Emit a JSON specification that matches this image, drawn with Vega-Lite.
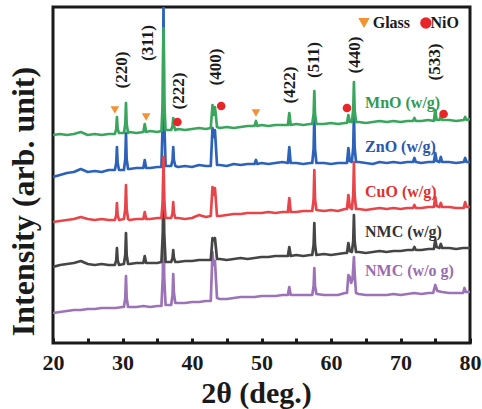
{
"$schema": "https://vega.github.io/schema/vega-lite/v6.json",
"width": 417, "height": 336,
"autosize": "none",
"padding": {"left": 53, "top": 7, "right": 12, "bottom": 66},
"background": "white",
"config": {"view": {"stroke": "#1a1a1a", "strokeWidth": 3}, "font": "Liberation Serif"},
"datasets": {
"xrd": [
{"s":"g","x":20,"y":208},{"s":"g","x":21,"y":209},{"s":"g","x":22,"y":208},{"s":"g","x":23,"y":209},{"s":"g","x":24,"y":211},{"s":"g","x":25,"y":208},{"s":"g","x":26,"y":209},{"s":"g","x":27,"y":208},{"s":"g","x":28,"y":209},
{"s":"g","x":28.9,"y":209},{"s":"g","x":29.1,"y":214},{"s":"g","x":29.2,"y":226},{"s":"g","x":29.3,"y":214},{"s":"g","x":29.5,"y":210},
{"s":"g","x":30.2,"y":210},{"s":"g","x":30.4,"y":219},{"s":"g","x":30.5,"y":240},{"s":"g","x":30.6,"y":219},{"s":"g","x":30.8,"y":210},
{"s":"g","x":31,"y":211},{"s":"g","x":32,"y":210},
{"s":"g","x":33.0,"y":211},{"s":"g","x":33.2,"y":219},{"s":"g","x":33.4,"y":211},
{"s":"g","x":34,"y":212},{"s":"g","x":35,"y":211},
{"s":"g","x":35.6,"y":212},{"s":"g","x":35.8,"y":243},{"s":"g","x":35.9,"y":315},{"s":"g","x":36.0,"y":243},{"s":"g","x":36.2,"y":213},
{"s":"g","x":37.0,"y":213},{"s":"g","x":37.2,"y":217},{"s":"g","x":37.3,"y":225},{"s":"g","x":37.4,"y":217},{"s":"g","x":37.6,"y":213},
{"s":"g","x":38,"y":214},{"s":"g","x":39,"y":213},{"s":"g","x":40,"y":214},{"s":"g","x":41,"y":215},{"s":"g","x":42,"y":214},
{"s":"g","x":42.7,"y":215},{"s":"g","x":42.95,"y":238},{"s":"g","x":43.1,"y":228},{"s":"g","x":43.3,"y":236},{"s":"g","x":43.6,"y":216},
{"s":"g","x":44,"y":215},{"s":"g","x":45,"y":216},{"s":"g","x":46,"y":215},{"s":"g","x":47,"y":216},{"s":"g","x":48,"y":217},
{"s":"g","x":49.0,"y":217},{"s":"g","x":49.2,"y":222},{"s":"g","x":49.4,"y":217},
{"s":"g","x":50,"y":218},{"s":"g","x":51,"y":217},{"s":"g","x":52,"y":218},{"s":"g","x":53,"y":218},
{"s":"g","x":53.8,"y":218},{"s":"g","x":54.0,"y":230},{"s":"g","x":54.2,"y":218},
{"s":"g","x":55,"y":219},{"s":"g","x":56,"y":218},{"s":"g","x":57,"y":219},
{"s":"g","x":57.3,"y":219},{"s":"g","x":57.5,"y":229},{"s":"g","x":57.6,"y":252},{"s":"g","x":57.7,"y":229},{"s":"g","x":57.9,"y":219},
{"s":"g","x":59,"y":219},{"s":"g","x":60,"y":220},{"s":"g","x":61,"y":219},{"s":"g","x":62,"y":220},
{"s":"g","x":62.3,"y":220},{"s":"g","x":62.5,"y":228},{"s":"g","x":62.7,"y":221},
{"s":"g","x":63.0,"y":221},{"s":"g","x":63.2,"y":233},{"s":"g","x":63.3,"y":261},{"s":"g","x":63.4,"y":233},{"s":"g","x":63.6,"y":221},
{"s":"g","x":64,"y":221},{"s":"g","x":65,"y":220},{"s":"g","x":66,"y":221},{"s":"g","x":67,"y":222},{"s":"g","x":68,"y":221},{"s":"g","x":69,"y":222},{"s":"g","x":70,"y":221},{"s":"g","x":71,"y":222},
{"s":"g","x":71.8,"y":222},{"s":"g","x":72.0,"y":225},{"s":"g","x":72.2,"y":222},
{"s":"g","x":73,"y":222},{"s":"g","x":74,"y":223},
{"s":"g","x":74.8,"y":222},{"s":"g","x":75.0,"y":233},{"s":"g","x":75.2,"y":223},
{"s":"g","x":75.6,"y":223},{"s":"g","x":75.8,"y":227},{"s":"g","x":76.0,"y":223},
{"s":"g","x":77,"y":223},{"s":"g","x":78,"y":222},
{"s":"g","x":79.1,"y":223},{"s":"g","x":79.3,"y":226},{"s":"g","x":79.5,"y":223},
{"s":"g","x":80,"y":224},

{"s":"b","x":20,"y":166},{"s":"b","x":21,"y":168},{"s":"b","x":22,"y":170},{"s":"b","x":23,"y":171},{"s":"b","x":24,"y":174},{"s":"b","x":25,"y":171},{"s":"b","x":26,"y":172},{"s":"b","x":27,"y":171},{"s":"b","x":28,"y":173},
{"s":"b","x":28.9,"y":173},{"s":"b","x":29.1,"y":180},{"s":"b","x":29.2,"y":196},{"s":"b","x":29.3,"y":180},{"s":"b","x":29.5,"y":173},
{"s":"b","x":30.2,"y":173},{"s":"b","x":30.4,"y":184},{"s":"b","x":30.5,"y":210},{"s":"b","x":30.6,"y":184},{"s":"b","x":30.8,"y":174},
{"s":"b","x":31,"y":174},{"s":"b","x":32,"y":175},
{"s":"b","x":33.0,"y":175},{"s":"b","x":33.2,"y":183},{"s":"b","x":33.4,"y":175},
{"s":"b","x":34,"y":175},{"s":"b","x":35,"y":176},
{"s":"b","x":35.6,"y":176},{"s":"b","x":35.8,"y":225},{"s":"b","x":35.9,"y":340},{"s":"b","x":36.0,"y":225},{"s":"b","x":36.2,"y":177},
{"s":"b","x":37.0,"y":177},{"s":"b","x":37.2,"y":183},{"s":"b","x":37.3,"y":196},{"s":"b","x":37.4,"y":183},{"s":"b","x":37.6,"y":177},
{"s":"b","x":38,"y":176},{"s":"b","x":39,"y":177},{"s":"b","x":40,"y":176},{"s":"b","x":41,"y":178},{"s":"b","x":42,"y":177},
{"s":"b","x":42.7,"y":177},{"s":"b","x":42.95,"y":215},{"s":"b","x":43.1,"y":206},{"s":"b","x":43.3,"y":213},{"s":"b","x":43.6,"y":178},
{"s":"b","x":44,"y":178},{"s":"b","x":45,"y":177},{"s":"b","x":46,"y":179},{"s":"b","x":47,"y":178},{"s":"b","x":48,"y":179},
{"s":"b","x":49.0,"y":179},{"s":"b","x":49.2,"y":183},{"s":"b","x":49.4,"y":179},
{"s":"b","x":50,"y":180},{"s":"b","x":51,"y":179},{"s":"b","x":52,"y":180},{"s":"b","x":53,"y":181},
{"s":"b","x":53.8,"y":180},{"s":"b","x":54.0,"y":196},{"s":"b","x":54.2,"y":180},
{"s":"b","x":55,"y":180},{"s":"b","x":56,"y":179},{"s":"b","x":57,"y":180},
{"s":"b","x":57.3,"y":180},{"s":"b","x":57.5,"y":194},{"s":"b","x":57.6,"y":228},{"s":"b","x":57.7,"y":194},{"s":"b","x":57.9,"y":180},
{"s":"b","x":59,"y":180},{"s":"b","x":60,"y":179},{"s":"b","x":61,"y":180},{"s":"b","x":62,"y":180},
{"s":"b","x":62.3,"y":180},{"s":"b","x":62.5,"y":195},{"s":"b","x":62.7,"y":182},
{"s":"b","x":63.0,"y":181},{"s":"b","x":63.2,"y":196},{"s":"b","x":63.3,"y":230},{"s":"b","x":63.4,"y":196},{"s":"b","x":63.6,"y":181},
{"s":"b","x":64,"y":181},{"s":"b","x":65,"y":180},{"s":"b","x":66,"y":179},{"s":"b","x":67,"y":181},{"s":"b","x":68,"y":180},{"s":"b","x":69,"y":181},{"s":"b","x":70,"y":180},{"s":"b","x":71,"y":181},
{"s":"b","x":71.8,"y":181},{"s":"b","x":72.0,"y":185},{"s":"b","x":72.2,"y":181},
{"s":"b","x":73,"y":180},{"s":"b","x":74,"y":181},
{"s":"b","x":74.8,"y":181},{"s":"b","x":75.0,"y":190},{"s":"b","x":75.2,"y":182},
{"s":"b","x":75.6,"y":181},{"s":"b","x":75.8,"y":186},{"s":"b","x":76.0,"y":181},
{"s":"b","x":77,"y":181},{"s":"b","x":78,"y":180},
{"s":"b","x":79.1,"y":181},{"s":"b","x":79.3,"y":185},{"s":"b","x":79.5,"y":181},
{"s":"b","x":80,"y":181},

{"s":"r","x":20,"y":121},{"s":"r","x":21,"y":122},{"s":"r","x":22,"y":123},{"s":"r","x":23,"y":124},{"s":"r","x":24,"y":126},{"s":"r","x":25,"y":124},{"s":"r","x":26,"y":123},{"s":"r","x":27,"y":124},{"s":"r","x":28,"y":123},
{"s":"r","x":28.9,"y":123},{"s":"r","x":29.1,"y":128},{"s":"r","x":29.2,"y":140},{"s":"r","x":29.3,"y":128},{"s":"r","x":29.5,"y":123},
{"s":"r","x":30.2,"y":124},{"s":"r","x":30.4,"y":134},{"s":"r","x":30.5,"y":158},{"s":"r","x":30.6,"y":134},{"s":"r","x":30.8,"y":124},
{"s":"r","x":31,"y":123},{"s":"r","x":32,"y":124},
{"s":"r","x":33.0,"y":124},{"s":"r","x":33.2,"y":131},{"s":"r","x":33.4,"y":124},
{"s":"r","x":34,"y":124},{"s":"r","x":35,"y":125},
{"s":"r","x":35.6,"y":125},{"s":"r","x":35.8,"y":143},{"s":"r","x":35.9,"y":186},{"s":"r","x":36.0,"y":143},{"s":"r","x":36.2,"y":125},
{"s":"r","x":37.0,"y":125},{"s":"r","x":37.2,"y":130},{"s":"r","x":37.3,"y":141},{"s":"r","x":37.4,"y":130},{"s":"r","x":37.6,"y":125},
{"s":"r","x":38,"y":125},{"s":"r","x":39,"y":124},{"s":"r","x":40,"y":125},{"s":"r","x":41,"y":128},{"s":"r","x":42,"y":126},
{"s":"r","x":42.7,"y":127},{"s":"r","x":42.95,"y":156},{"s":"r","x":43.1,"y":148},{"s":"r","x":43.3,"y":155},{"s":"r","x":43.6,"y":127},
{"s":"r","x":44,"y":127},{"s":"r","x":45,"y":128},{"s":"r","x":46,"y":129},{"s":"r","x":47,"y":129},{"s":"r","x":48,"y":130},{"s":"r","x":49,"y":130},
{"s":"r","x":50,"y":130},{"s":"r","x":51,"y":131},{"s":"r","x":52,"y":130},{"s":"r","x":53,"y":131},
{"s":"r","x":53.8,"y":131},{"s":"r","x":54.0,"y":145},{"s":"r","x":54.2,"y":131},
{"s":"r","x":55,"y":131},{"s":"r","x":56,"y":132},{"s":"r","x":57,"y":132},
{"s":"r","x":57.3,"y":132},{"s":"r","x":57.5,"y":144},{"s":"r","x":57.6,"y":173},{"s":"r","x":57.7,"y":144},{"s":"r","x":57.9,"y":133},
{"s":"r","x":59,"y":132},{"s":"r","x":60,"y":133},{"s":"r","x":61,"y":132},{"s":"r","x":62,"y":134},
{"s":"r","x":62.3,"y":134},{"s":"r","x":62.5,"y":148},{"s":"r","x":62.7,"y":136},
{"s":"r","x":63.0,"y":134},{"s":"r","x":63.2,"y":148},{"s":"r","x":63.3,"y":181},{"s":"r","x":63.4,"y":148},{"s":"r","x":63.6,"y":134},
{"s":"r","x":64,"y":134},{"s":"r","x":65,"y":133},{"s":"r","x":66,"y":134},{"s":"r","x":67,"y":135},{"s":"r","x":68,"y":134},{"s":"r","x":69,"y":135},{"s":"r","x":70,"y":134},{"s":"r","x":71,"y":135},
{"s":"r","x":71.8,"y":135},{"s":"r","x":72.0,"y":138},{"s":"r","x":72.2,"y":135},
{"s":"r","x":73,"y":135},{"s":"r","x":74,"y":136},
{"s":"r","x":74.8,"y":136},{"s":"r","x":75.0,"y":146},{"s":"r","x":75.2,"y":137},
{"s":"r","x":75.6,"y":136},{"s":"r","x":75.8,"y":140},{"s":"r","x":76.0,"y":136},
{"s":"r","x":77,"y":136},{"s":"r","x":78,"y":135},
{"s":"r","x":79.1,"y":135},{"s":"r","x":79.3,"y":141},{"s":"r","x":79.5,"y":136},
{"s":"r","x":80,"y":136},

{"s":"k","x":20,"y":76},{"s":"k","x":21,"y":78},{"s":"k","x":22,"y":79},{"s":"k","x":23,"y":80},{"s":"k","x":24,"y":82},{"s":"k","x":25,"y":79},{"s":"k","x":26,"y":78},{"s":"k","x":27,"y":79},{"s":"k","x":28,"y":78},
{"s":"k","x":28.9,"y":78},{"s":"k","x":29.1,"y":83},{"s":"k","x":29.2,"y":95},{"s":"k","x":29.3,"y":83},{"s":"k","x":29.5,"y":78},
{"s":"k","x":30.2,"y":79},{"s":"k","x":30.4,"y":88},{"s":"k","x":30.5,"y":110},{"s":"k","x":30.6,"y":88},{"s":"k","x":30.8,"y":79},
{"s":"k","x":31,"y":79},{"s":"k","x":32,"y":80},
{"s":"k","x":33.0,"y":80},{"s":"k","x":33.2,"y":87},{"s":"k","x":33.4,"y":80},
{"s":"k","x":34,"y":80},{"s":"k","x":35,"y":80},
{"s":"k","x":35.6,"y":81},{"s":"k","x":35.8,"y":110},{"s":"k","x":35.9,"y":180},{"s":"k","x":36.0,"y":110},{"s":"k","x":36.2,"y":81},
{"s":"k","x":37.0,"y":81},{"s":"k","x":37.2,"y":85},{"s":"k","x":37.3,"y":93},{"s":"k","x":37.4,"y":85},{"s":"k","x":37.6,"y":81},
{"s":"k","x":38,"y":81},{"s":"k","x":39,"y":82},{"s":"k","x":40,"y":82},{"s":"k","x":41,"y":83},{"s":"k","x":42,"y":83},
{"s":"k","x":42.7,"y":83},{"s":"k","x":42.95,"y":105},{"s":"k","x":43.1,"y":103},{"s":"k","x":43.3,"y":105},{"s":"k","x":43.6,"y":84},
{"s":"k","x":44,"y":84},{"s":"k","x":45,"y":83},{"s":"k","x":46,"y":84},{"s":"k","x":47,"y":85},{"s":"k","x":48,"y":84},
{"s":"k","x":49,"y":85},{"s":"k","x":50,"y":86},{"s":"k","x":51,"y":86},{"s":"k","x":52,"y":87},{"s":"k","x":53,"y":87},
{"s":"k","x":53.8,"y":87},{"s":"k","x":54.0,"y":96},{"s":"k","x":54.2,"y":87},
{"s":"k","x":55,"y":88},{"s":"k","x":56,"y":87},{"s":"k","x":57,"y":88},
{"s":"k","x":57.3,"y":88},{"s":"k","x":57.5,"y":98},{"s":"k","x":57.6,"y":120},{"s":"k","x":57.7,"y":98},{"s":"k","x":57.9,"y":88},
{"s":"k","x":59,"y":89},{"s":"k","x":60,"y":88},{"s":"k","x":61,"y":89},{"s":"k","x":62,"y":90},
{"s":"k","x":62.3,"y":90},{"s":"k","x":62.5,"y":100},{"s":"k","x":62.7,"y":92},
{"s":"k","x":63.0,"y":91},{"s":"k","x":63.2,"y":102},{"s":"k","x":63.3,"y":128},{"s":"k","x":63.4,"y":102},{"s":"k","x":63.6,"y":91},
{"s":"k","x":64,"y":91},{"s":"k","x":65,"y":90},{"s":"k","x":66,"y":91},{"s":"k","x":67,"y":92},{"s":"k","x":68,"y":91},{"s":"k","x":69,"y":92},{"s":"k","x":70,"y":92},{"s":"k","x":71,"y":93},
{"s":"k","x":71.8,"y":93},{"s":"k","x":72.0,"y":96},{"s":"k","x":72.2,"y":93},
{"s":"k","x":73,"y":93},{"s":"k","x":74,"y":94},
{"s":"k","x":74.8,"y":94},{"s":"k","x":75.0,"y":103},{"s":"k","x":75.2,"y":96},
{"s":"k","x":75.6,"y":95},{"s":"k","x":75.8,"y":99},{"s":"k","x":76.0,"y":95},
{"s":"k","x":77,"y":95},{"s":"k","x":78,"y":94},{"s":"k","x":79,"y":95},{"s":"k","x":80,"y":95},

{"s":"p","x":20,"y":30},{"s":"p","x":21,"y":31},{"s":"p","x":22,"y":32},{"s":"p","x":23,"y":33},{"s":"p","x":24,"y":33},{"s":"p","x":25,"y":34},{"s":"p","x":26,"y":34},{"s":"p","x":27,"y":35},{"s":"p","x":28,"y":35},{"s":"p","x":29,"y":35},{"s":"p","x":30,"y":36},
{"s":"p","x":30.2,"y":36},{"s":"p","x":30.4,"y":45},{"s":"p","x":30.5,"y":67},{"s":"p","x":30.6,"y":45},{"s":"p","x":30.8,"y":36},
{"s":"p","x":31,"y":36},{"s":"p","x":32,"y":36},{"s":"p","x":33,"y":37},{"s":"p","x":34,"y":36},{"s":"p","x":35,"y":37},
{"s":"p","x":35.6,"y":37},{"s":"p","x":35.8,"y":66},{"s":"p","x":35.9,"y":136},{"s":"p","x":36.0,"y":66},{"s":"p","x":36.2,"y":38},
{"s":"p","x":37.0,"y":38},{"s":"p","x":37.2,"y":48},{"s":"p","x":37.3,"y":69},{"s":"p","x":37.4,"y":50},{"s":"p","x":37.6,"y":40},
{"s":"p","x":38,"y":40},{"s":"p","x":39,"y":40},{"s":"p","x":40,"y":41},{"s":"p","x":41,"y":41},{"s":"p","x":42,"y":42},
{"s":"p","x":42.7,"y":42},{"s":"p","x":42.95,"y":91},{"s":"p","x":43.1,"y":78},{"s":"p","x":43.3,"y":82},{"s":"p","x":43.6,"y":45},
{"s":"p","x":44,"y":44},{"s":"p","x":45,"y":44},{"s":"p","x":46,"y":45},{"s":"p","x":47,"y":46},{"s":"p","x":48,"y":46},{"s":"p","x":49,"y":46},{"s":"p","x":50,"y":47},{"s":"p","x":51,"y":47},{"s":"p","x":52,"y":47},{"s":"p","x":53,"y":48},
{"s":"p","x":53.8,"y":48},{"s":"p","x":54.0,"y":56},{"s":"p","x":54.2,"y":48},
{"s":"p","x":55,"y":48},{"s":"p","x":56,"y":48},{"s":"p","x":57,"y":48},
{"s":"p","x":57.3,"y":48},{"s":"p","x":57.5,"y":57},{"s":"p","x":57.6,"y":75},{"s":"p","x":57.7,"y":57},{"s":"p","x":57.9,"y":49},
{"s":"p","x":59,"y":48},{"s":"p","x":60,"y":48},{"s":"p","x":61,"y":48},{"s":"p","x":62,"y":50},
{"s":"p","x":62.3,"y":50},{"s":"p","x":62.5,"y":68},{"s":"p","x":62.7,"y":66},{"s":"p","x":62.9,"y":60},{"s":"p","x":63.1,"y":64},{"s":"p","x":63.3,"y":86},{"s":"p","x":63.4,"y":70},{"s":"p","x":63.6,"y":50},
{"s":"p","x":64,"y":49},{"s":"p","x":65,"y":48},{"s":"p","x":66,"y":48},{"s":"p","x":67,"y":48},{"s":"p","x":68,"y":48},{"s":"p","x":69,"y":49},{"s":"p","x":70,"y":48},{"s":"p","x":71,"y":49},{"s":"p","x":72,"y":50},{"s":"p","x":73,"y":49},{"s":"p","x":74,"y":50},
{"s":"p","x":74.7,"y":50},{"s":"p","x":75.0,"y":58},{"s":"p","x":75.3,"y":52},
{"s":"p","x":76,"y":51},{"s":"p","x":77,"y":50},{"s":"p","x":78,"y":50},
{"s":"p","x":79.0,"y":50},{"s":"p","x":79.2,"y":55},{"s":"p","x":79.4,"y":51},
{"s":"p","x":80,"y":51}
],
"markers": [
{"kind":"Glass","role":"peak","x":28.9,"y":233},
{"kind":"Glass","role":"peak","x":33.4,"y":226},
{"kind":"Glass","role":"peak","x":49.2,"y":230},
{"kind":"Glass","role":"key","x":64.75,"y":320},
{"kind":"NiO","role":"peak","x":37.9,"y":221},
{"kind":"NiO","role":"peak","x":44.2,"y":237},
{"kind":"NiO","role":"peak","x":62.3,"y":235},
{"kind":"NiO","role":"peak","x":76.2,"y":229},
{"kind":"NiO","role":"key","x":73.65,"y":320}
],
"hkl": [
{"label":"(220)","x":29.9,"y":273},
{"label":"(311)","x":33.7,"y":300},
{"label":"(222)","x":38.1,"y":252},
{"label":"(400)","x":43.4,"y":276},
{"label":"(422)","x":54.1,"y":258},
{"label":"(511)","x":57.6,"y":283},
{"label":"(440)","x":63.45,"y":288},
{"label":"(533)","x":74.9,"y":281}
],
"names": [
{"label":"MnO (w/g)","x":64.9,"y":240},
{"label":"ZnO (w/g)","x":64.9,"y":196},
{"label":"CuO (w/g)","x":64.9,"y":151},
{"label":"NMC (w/g)","x":64.9,"y":111},
{"label":"NMC (w/o g)","x":64.9,"y":72},
{"label":"Glass","x":66.0,"y":320},
{"label":"NiO","x":74.3,"y":320}
]
},
"encoding": {
"x": {"field":"x","type":"quantitative","scale":{"domain":[20,80],"nice":false,"zero":false},
 "axis":{"values":[20,25,30,35,40,45,50,55,60,65,70,75,80],"labelExpr":"datum.value % 10 === 0 ? datum.label : ''",
 "tickSize":-5,"tickWidth":3,"tickColor":"#1a1a1a","domain":false,"grid":false,
 "labelFont":"Liberation Serif","labelFontWeight":"bold","labelFontSize":22,"labelColor":"#1a1a1a","labelPadding":14,"labelFlush":false,"labelOverlap":false,
 "title":"2θ (deg.)","titleFont":"Liberation Serif","titleFontWeight":"bold","titleFontSize":30,"titleColor":"#1a1a1a","titleBaseline":"alphabetic","titleAlign":"center","titleX":203,"titleY":59}},
"y": {"field":"y","type":"quantitative","scale":{"domain":[0,336],"nice":false,"zero":false},
 "axis":{"labels":false,"ticks":false,"domain":false,"grid":false,
 "title":"Intensity (arb. unit)","titleFont":"Liberation Serif","titleFontWeight":"bold","titleFontSize":32,"titleColor":"#1a1a1a","titleAngle":-90,"titleBaseline":"alphabetic","titleAlign":"center","titleX":-20,"titleY":194}}
},
"layer": [
{"data":{"name":"xrd"},"transform":[{"filter":"datum.s === 'p'"}],"mark":{"type":"line","color":"#9c73b6","strokeWidth":2.7,"strokeJoin":"round","clip":true}},
{"data":{"name":"xrd"},"transform":[{"filter":"datum.s === 'k'"}],"mark":{"type":"line","color":"#454545","strokeWidth":2.7,"strokeJoin":"round","clip":true}},
{"data":{"name":"xrd"},"transform":[{"filter":"datum.s === 'b'"}],"mark":{"type":"line","color":"#2c62b9","strokeWidth":2.7,"strokeJoin":"round","clip":true}},
{"data":{"name":"xrd"},"transform":[{"filter":"datum.s === 'r'"}],"mark":{"type":"line","color":"#e8454a","strokeWidth":2.7,"strokeJoin":"round","clip":true}},
{"data":{"name":"xrd"},"transform":[{"filter":"datum.s === 'g'"}],"mark":{"type":"line","color":"#3aa65d","strokeWidth":2.7,"strokeJoin":"round","clip":true}},
{"data":{"name":"markers"},"transform":[{"filter":"datum.kind === 'Glass'"}],"mark":{"type":"point","shape":"triangle-down","filled":true,"color":"#f39232","opacity":1},
 "encoding":{"size":{"field":"role","type":"nominal","scale":{"domain":["peak","key"],"range":[75,130]},"legend":null}}},
{"data":{"name":"markers"},"transform":[{"filter":"datum.kind === 'NiO'"}],"mark":{"type":"point","shape":"circle","filled":true,"color":"#e8262a","opacity":1},
 "encoding":{"size":{"field":"role","type":"nominal","scale":{"domain":["peak","key"],"range":[40,70]},"legend":null}}},
{"data":{"name":"hkl"},"mark":{"type":"text","angle":270,"font":"Liberation Serif","fontWeight":"bold","fontSize":17,"align":"center","baseline":"middle","color":"#1a1a1a"},
 "encoding":{"text":{"field":"label"}}},
{"data":{"name":"names"},"mark":{"type":"text","font":"Liberation Serif","fontWeight":"bold","fontSize":16,"align":"left","baseline":"middle"},
 "encoding":{"text":{"field":"label"},"color":{"field":"label","type":"nominal","scale":{"domain":["MnO (w/g)","ZnO (w/g)","CuO (w/g)","NMC (w/g)","NMC (w/o g)","Glass","NiO"],"range":["#2f9a55","#2757ad","#e0302e","#333333","#9a6bb0","#1a1a1a","#1a1a1a"]},"legend":null}}}
]
}
